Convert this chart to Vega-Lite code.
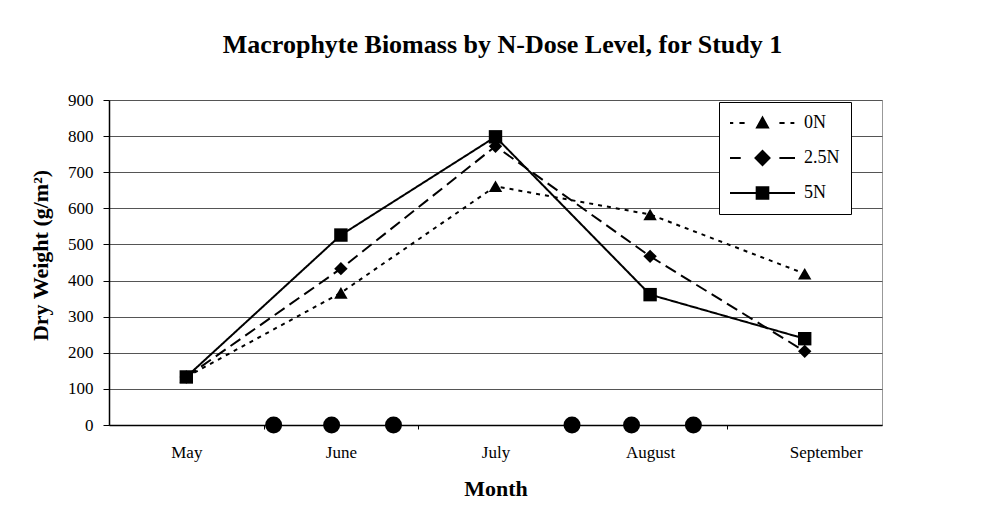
{
  "$schema": "https://vega.github.io/schema/vega-lite/v6.json",
  "width": 773,
  "height": 325,
  "autosize": {"type": "none"},
  "padding": {"left": 109, "top": 100, "right": 124, "bottom": 85},
  "background": "white",
  "config": {
    "font": "Liberation Serif",
    "view": {"stroke": "#999", "strokeWidth": 1}
  },
  "title": {
    "text": "Macrophyte Biomass by N-Dose Level, for Study 1",
    "font": "Liberation Serif",
    "fontSize": 26,
    "fontWeight": "bold",
    "color": "black",
    "anchor": "middle",
    "offset": 33,
    "dx": 7
  },
  "datasets": {
    "biomass": [
      {"month": 5, "series": "0N", "dry_weight": 133},
      {"month": 6, "series": "0N", "dry_weight": 366},
      {"month": 7, "series": "0N", "dry_weight": 661},
      {"month": 8, "series": "0N", "dry_weight": 583},
      {"month": 9, "series": "0N", "dry_weight": 419},
      {"month": 5, "series": "2.5N", "dry_weight": 133},
      {"month": 6, "series": "2.5N", "dry_weight": 433},
      {"month": 7, "series": "2.5N", "dry_weight": 772},
      {"month": 8, "series": "2.5N", "dry_weight": 467},
      {"month": 9, "series": "2.5N", "dry_weight": 204},
      {"month": 5, "series": "5N", "dry_weight": 133},
      {"month": 6, "series": "5N", "dry_weight": 526},
      {"month": 7, "series": "5N", "dry_weight": 798},
      {"month": 8, "series": "5N", "dry_weight": 361},
      {"month": 9, "series": "5N", "dry_weight": 239}
    ],
    "events": [
      {"month": 5.565, "dry_weight": 0},
      {"month": 5.94, "dry_weight": 0},
      {"month": 6.34, "dry_weight": 0},
      {"month": 7.495, "dry_weight": 0},
      {"month": 7.88, "dry_weight": 0},
      {"month": 8.28, "dry_weight": 0}
    ]
  },
  "encoding": {
    "x": {
      "field": "month",
      "type": "quantitative",
      "scale": {"domain": [4.5, 9.5], "nice": false, "zero": false},
      "axis": {
        "values": [5, 5.5, 6, 6.5, 7, 7.5, 8, 8.5, 9],
        "labelExpr": "datum.value % 1 == 0 ? ['','','','','','May','June','July','August','September'][datum.value] : ''",
        "tickOpacity": {"condition": {"test": "datum.value % 1 == 0", "value": 0}, "value": 1},
        "labelOffset": {"condition": {"test": "datum.value == 9", "value": 21}, "value": 0},
        "tickSize": 4,
        "tickColor": "black",
        "domainColor": "black",
        "domainWidth": 1.5,
        "grid": false,
        "labelOverlap": false,
        "labelFlush": false,
        "labelFont": "Liberation Serif",
        "labelFontSize": 17,
        "labelColor": "black",
        "labelPadding": 15,
        "title": "Month",
        "titleFont": "Liberation Serif",
        "titleFontSize": 22,
        "titleFontWeight": "bold",
        "titleColor": "black",
        "titlePadding": 18
      }
    },
    "y": {
      "field": "dry_weight",
      "type": "quantitative",
      "scale": {"domain": [0, 900], "nice": false},
      "axis": {
        "values": [0, 100, 200, 300, 400, 500, 600, 700, 800, 900],
        "grid": true,
        "gridColor": "#555",
        "gridWidth": 1,
        "tickSize": 6,
        "tickColor": "black",
        "domainColor": "black",
        "domainWidth": 1.5,
        "labelFont": "Liberation Serif",
        "labelFontSize": 17,
        "labelColor": "black",
        "labelPadding": 10,
        "title": "Dry Weight (g/m²)",
        "titleFont": "Liberation Serif",
        "titleFontSize": 22,
        "titleFontWeight": "bold",
        "titleColor": "black",
        "titlePadding": 15,
        "titleY": 155
      }
    }
  },
  "resolve": {"scale": {"shape": "independent"}},
  "layer": [
    {
      "data": {"name": "biomass"},
      "mark": {"type": "line", "color": "black", "strokeWidth": 2},
      "encoding": {
        "strokeDash": {
          "field": "series",
          "type": "nominal",
          "scale": {"range": [[4, 5], [12, 6], [1, 0]]},
          "legend": null
        }
      }
    },
    {
      "data": {"name": "biomass"},
      "mark": {"type": "point", "filled": true, "color": "black", "opacity": 1, "size": 180},
      "encoding": {
        "shape": {
          "field": "series",
          "type": "nominal",
          "scale": {"domain": ["0N", "2.5N", "5N"], "range": ["triangle-up", "diamond", "square"]},
          "legend": null
        }
      }
    },
    {
      "data": {"name": "events"},
      "mark": {"type": "circle", "color": "black", "opacity": 1, "size": 289},
      "encoding": {}
    },
    {
      "data": {"name": "biomass"},
      "transform": [{"filter": "false"}],
      "mark": {"type": "point", "filled": true, "color": "black", "opacity": 1},
      "encoding": {
        "shape": {
          "field": "series",
          "type": "nominal",
          "scale": {
            "domain": ["0N", "2.5N", "5N"],
            "range": [
              "M-1,-0.031H-0.9V0.031H-1ZM-0.71,-0.031H-0.55V0.031H-0.71ZM0.52,-0.031H0.68V0.031H0.52ZM0.86,-0.031H0.98V0.031H0.86ZM0,-0.23L0.22,0.17L-0.22,0.17Z",
              "M-1,-0.031H-0.67V0.031H-1ZM0.52,-0.031H1V0.031H0.52ZM0,-0.26L0.26,0L0,0.26L-0.26,0Z",
              "M-1,-0.031H1V0.031H-1ZM-0.21,-0.21H0.21V0.21H-0.21Z"
            ]
          },
          "legend": {
            "orient": "none",
            "legendX": 610,
            "legendY": 2,
            "title": null,
            "padding": 11,
            "strokeColor": "black",
            "fillColor": "white",
            "symbolSize": 4225,
            "symbolStrokeWidth": 0,
            "symbolFillColor": "black",
            "symbolOpacity": 1,
            "clipHeight": 20,
            "rowPadding": 15,
            "labelFont": "Liberation Serif",
            "labelFontSize": 18,
            "labelColor": "black",
            "labelOffset": 9
          }
        }
      }
    }
  ]
}
